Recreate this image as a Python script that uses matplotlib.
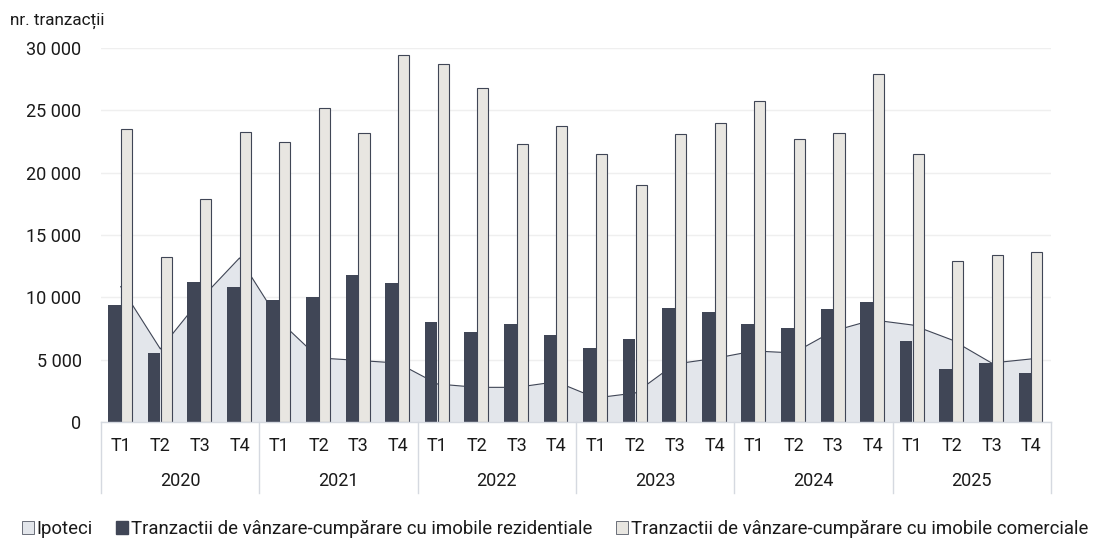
import matplotlib
matplotlib.use("Agg")
import matplotlib.pyplot as plt
import numpy as np
from matplotlib.ticker import FuncFormatter
from matplotlib.patches import Patch
import matplotlib.transforms as mtransforms

plt.rcParams['font.family'] = ['Roboto', 'DejaVu Sans']

years = ["2020", "2021", "2022", "2023", "2024", "2025"]
quarters = ["T1", "T2", "T3", "T4"]

ipoteci = [10860, 5860, 9800, 13160,
           8140, 5140, 4940, 4730,
           3050, 2780, 2780, 3230,
           1930, 2330, 4650, 5100,
           5700, 5540, 7300, 8190,
           7780, 6580, 4730, 5060]

rezidentiale = [9390, 5510, 11210, 10810,
                9790, 10010, 11800, 11180,
                8000, 7250, 7890, 6980,
                5910, 6660, 9120, 8850,
                7860, 7520, 9070, 9650,
                6500, 4250, 4760, 3930]

comerciale = [23490, 13220, 17920, 23270,
              22420, 25170, 23220, 29450,
              28710, 26780, 22290, 23730,
              21510, 19050, 23110, 23970,
              25740, 22740, 23220, 27910,
              21530, 12950, 13430, 13640]

labels_legend = ["Ipoteci",
                 "Tranzactii de vânzare-cumpărare cu imobile rezidentiale",
                 "Tranzactii de vânzare-cumpărare cu imobile comerciale"]

dark = "#404656"
light = "#E8E6E1"
area_c = "#E3E6EB"
sep_c = "#D5D9E0"
txt_c = "#1a1a1a"

fig = plt.figure(figsize=(10.94, 5.38), dpi=100)
ax = fig.add_axes([0.0923, 0.2156, 0.8684, 0.6952])

n = len(ipoteci)
x = np.arange(n)

ax.fill_between(x, ipoteci, 0, facecolor=area_c, edgecolor='none', zorder=1)
ax.plot(x, ipoteci, color=dark, lw=0.8, zorder=1.5)

ax.bar(x - 0.16, rezidentiale, width=0.32, color=dark, zorder=2)
ax.bar(x + 0.145, comerciale, width=0.28, color=light, edgecolor=dark,
       linewidth=0.8, zorder=2)

ax.set_xlim(-0.5, n - 0.5)
ax.set_ylim(0, 30000)
ax.set_yticks(np.arange(0, 30001, 5000))
ax.yaxis.set_major_formatter(FuncFormatter(lambda v, p: f"{int(v):,}".replace(",", " ")))
ax.tick_params(axis='y', length=0, labelsize=13, pad=14, colors=txt_c)
ax.grid(axis='y', color='#EFEFEF', lw=1, zorder=0)
ax.set_axisbelow(True)
for s in ['top', 'right', 'left']:
    ax.spines[s].set_visible(False)
ax.spines['bottom'].set_color(sep_c)
ax.spines['bottom'].set_linewidth(1)

ax.set_xticks([])
trans = mtransforms.blended_transform_factory(ax.transData, ax.transAxes)
for i in range(n):
    ax.text(i, -0.065, quarters[i % 4], transform=trans, ha='center', va='center',
            fontsize=13, color=txt_c)
for k, yr in enumerate(years):
    ax.text(4 * k + 1.5, -0.158, yr, transform=trans, ha='center', va='center',
            fontsize=13, color=txt_c)
for k in range(len(years) + 1):
    ax.plot([4 * k - 0.5, 4 * k - 0.5], [0, -0.19], transform=trans, color=sep_c,
            lw=1, clip_on=False)

fig.text(0.009, 0.962, "nr. tranzacții", fontsize=12.3, ha='left', va='center', color=txt_c)

handles = [Patch(facecolor=area_c, edgecolor='#555a66', lw=0.6),
           Patch(facecolor=dark, edgecolor=dark),
           Patch(facecolor=light, edgecolor='#555a66', lw=0.6)]
fig.legend(handles, labels_legend, loc='center left', bbox_to_anchor=(0.02, 0.016),
           ncol=3, frameon=False, fontsize=13.4, handlelength=0.65, handleheight=0.7,
           handletextpad=0.15, columnspacing=1.25, labelcolor=txt_c,
           borderpad=0, borderaxespad=0)

fig.savefig("out.png", dpi=100)
